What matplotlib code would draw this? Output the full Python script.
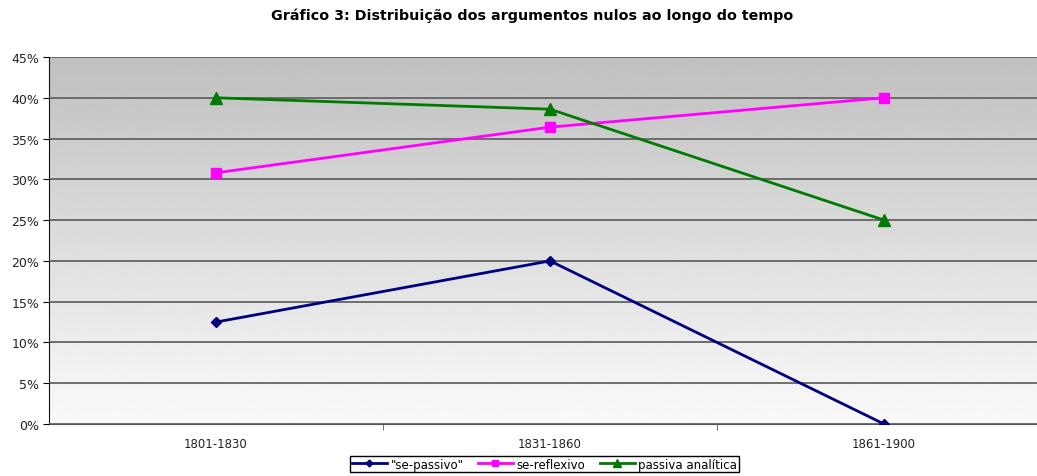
import matplotlib
matplotlib.use("Agg")
import matplotlib.pyplot as plt
import numpy as np
from matplotlib.ticker import PercentFormatter

plt.rcParams["font.family"] = ["DejaVu Sans"]

periods = ["1801-1830", "1831-1860", "1861-1900"]
se_passivo = [12.5, 20.0, 0.0]
se_reflexivo = [30.8, 36.4, 40.0]
passiva_analitica = [40.0, 38.6, 25.0]

fig = plt.figure(figsize=(10.37, 4.77), dpi=100)
# plot area runs past the right edge of the picture, as in the original crop
ax = fig.add_axes([0.0473, 0.109, 0.9662, 0.7694])

x = np.arange(len(periods))
ax.set_xlim(-0.5, len(periods) - 0.5)
ax.set_ylim(0, 45)

# gradient background (dark top, light bottom)
grad = np.linspace(0.75, 0.98, 256).reshape(-1, 1)
ax.imshow(grad, extent=[-0.5, len(periods) - 0.5, 0, 45], cmap="gray",
          vmin=0, vmax=1, aspect="auto", zorder=0)

ax.set_yticks(np.arange(0, 46, 5))
ax.yaxis.set_major_formatter(PercentFormatter(decimals=0))
ax.grid(axis="y", color="#636363", linewidth=1.3, zorder=1)
ax.set_axisbelow(False)

ax.plot(x, se_passivo, color="#000080", marker="D", markersize=5,
        linewidth=2, label='"se-passivo"', zorder=3)
ax.plot(x, se_reflexivo, color="#ff00ff", marker="s", markersize=7,
        linewidth=2, label="se-reflexivo", zorder=3)
ax.plot(x, passiva_analitica, color="#007a00", marker="^", markersize=8,
        linewidth=2, label="passiva analítica", zorder=3)

ax.set_xticks(x)
ax.set_xticklabels(periods)
ax.set_xticks(np.arange(len(periods)) + 0.5, minor=True)
ax.tick_params(axis="x", which="major", length=0, labelsize=8.5, pad=9,
               labelcolor="#222222")
ax.tick_params(axis="x", which="minor", length=4, color="#555555")
ax.tick_params(axis="y", labelsize=9, length=4, pad=3, labelcolor="#222222")
ax.spines["top"].set_visible(False)
ax.spines["right"].set_visible(False)
ax.spines["left"].set_color("#111111")
ax.spines["bottom"].set_color("#555555")

fig.suptitle("Gráfico 3: Distribuição dos argumentos nulos ao longo do tempo",
             fontsize=10.3, fontweight="bold", x=0.513, y=0.982)

fig.legend(loc="center", bbox_to_anchor=(0.525, 0.025), ncol=3, fontsize=8.5,
           frameon=True, fancybox=False, edgecolor="black", borderpad=0.1,
           handlelength=3.0, handletextpad=0.3, columnspacing=1.2,
           markerscale=0.7, framealpha=1)

fig.savefig("out.png", dpi=100)
